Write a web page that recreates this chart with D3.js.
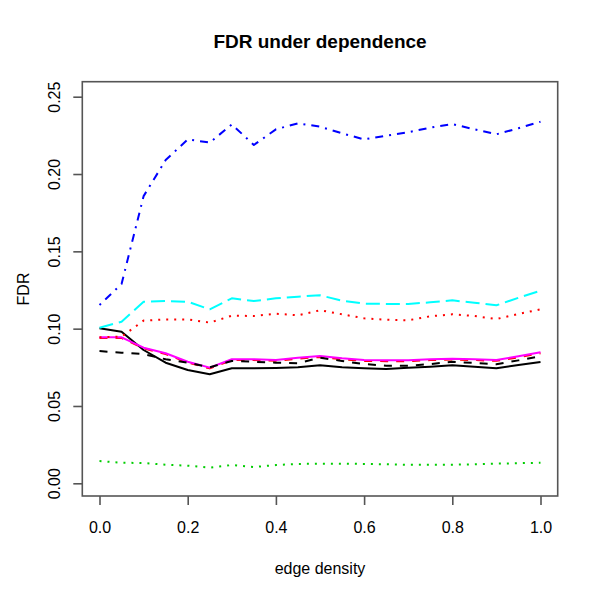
<!DOCTYPE html>
<html>
<head>
<meta charset="utf-8">
<script src="https://cdn.jsdelivr.net/npm/d3@7"></script>
<style>
  html, body { margin: 0; padding: 0; background: #fff; }
  svg { display: block; font-family: "Liberation Sans", Arial, Helvetica, sans-serif; }
</style>
</head>
<body>
<svg id="chart" width="600" height="600"></svg>
<script>
// ---- data ----
const title = "FDR under dependence";
const xLabel = "edge density";
const yLabel = "FDR";
const edgeDensity = [0, 0.05, 0.1, 0.15, 0.2, 0.25, 0.3, 0.35, 0.4, 0.45, 0.5,
                     0.55, 0.6, 0.65, 0.7, 0.75, 0.8, 0.85, 0.9, 0.95, 1.0];
const xTicks = [0, 0.2, 0.4, 0.6, 0.8, 1.0];
const xTickLabels = ["0.0", "0.2", "0.4", "0.6", "0.8", "1.0"];
const yTicks = [0, 0.05, 0.1, 0.15, 0.2, 0.25];
const yTickLabels = ["0.00", "0.05", "0.10", "0.15", "0.20", "0.25"];

const s1 = [0.1002, 0.0980, 0.0862, 0.0780, 0.0733, 0.0705, 0.0744, 0.0744, 0.0746, 0.0750, 0.0763,
            0.0750, 0.0744, 0.0739, 0.0748, 0.0754, 0.0763, 0.0754, 0.0744, 0.0765, 0.0784];
const s2 = [0.0940, 0.0940, 0.0872, 0.0836, 0.0781, 0.0743, 0.0797, 0.0797, 0.0792, 0.0806, 0.0817,
            0.0802, 0.0791, 0.0790, 0.0790, 0.0797, 0.0800, 0.0797, 0.0792, 0.0815, 0.0841];
const s3 = [0.0144, 0.0133, 0.0131, 0.0120, 0.0114, 0.0101, 0.0118, 0.0105, 0.0118, 0.0125, 0.0127,
            0.0127, 0.0125, 0.0123, 0.0120, 0.0120, 0.0120, 0.0123, 0.0127, 0.0130, 0.0133];
const s4 = [0.1153, 0.1289, 0.1857, 0.2090, 0.2224, 0.2203, 0.2321, 0.2188, 0.2289, 0.2328, 0.2306,
            0.2263, 0.2224, 0.2248, 0.2270, 0.2300, 0.2323, 0.2289, 0.2257, 0.2296, 0.2338];
const s5 = [0.1006, 0.1045, 0.1174, 0.1179, 0.1174, 0.1125, 0.1196, 0.1179, 0.1196, 0.1207, 0.1216,
            0.1181, 0.1162, 0.1160, 0.1160, 0.1170, 0.1183, 0.1168, 0.1151, 0.1200, 0.1245];
const s6 = [0.0944, 0.0944, 0.0877, 0.0841, 0.0786, 0.0748, 0.0802, 0.0802, 0.0797, 0.0812, 0.0823,
            0.0808, 0.0797, 0.0795, 0.0795, 0.0802, 0.0806, 0.0802, 0.0797, 0.0821, 0.0847];
const s7 = [0.0855, 0.0845, 0.0836, 0.0802, 0.0780, 0.0750, 0.0791, 0.0786, 0.0780, 0.0776, 0.0812,
            0.0791, 0.0771, 0.0760, 0.0760, 0.0771, 0.0786, 0.0778, 0.0770, 0.0795, 0.0821];
const s8 = [0.0944, 0.0948, 0.1052, 0.1060, 0.1060, 0.1039, 0.1084, 0.1082, 0.1097, 0.1086, 0.1119,
            0.1093, 0.1067, 0.1058, 0.1054, 0.1080, 0.1093, 0.1082, 0.1062, 0.1095, 0.1125];

const seriesValues = [s1, s2, s3, s4, s5, s6, s7, s8];
const seriesColors = ["#000000", "#FF0000", "#00CD00", "#0000FF", "#00FFFF", "#FF00FF", "#000000", "#FF0000"];
const seriesDash = ["", "8,8", "2,6", "2,6,8,6", "14,6", "", "8,8", "2,6"];

// ---- layout ----
const svg = d3.select("#chart");
const box = {left: 82.3, right: 557.7, top: 81.7, bottom: 496};
const x = d3.scaleLinear().domain([0, 1]).range([99.5, 540.5]);
const y = d3.scaleLinear().domain([0, 0.25]).range([483.3, 96.7]);

svg.append("rect").attr("width", 600).attr("height", 600).attr("fill", "#fff");

// series
const line = d3.line().x((d, i) => x(edgeDensity[i])).y(d => y(d));
const g = svg.append("g");
seriesValues.forEach((vals, k) => {
  g.append("path")
    .datum(vals)
    .attr("d", line)
    .attr("fill", "none")
    .attr("stroke", seriesColors[k])
    .attr("stroke-width", 2)
    .attr("stroke-linejoin", "round")
    .attr("stroke-linecap", "butt")
    .attr("stroke-dasharray", seriesDash[k] || null);
});

// box
svg.append("rect")
  .attr("x", box.left).attr("y", box.top)
  .attr("width", box.right - box.left).attr("height", box.bottom - box.top)
  .attr("fill", "none").attr("stroke", "#555").attr("stroke-width", 1.6);

// x axis
const xAxis = d3.axisBottom(x).tickValues(xTicks)
  .tickFormat((d, i) => xTickLabels[i]).tickSize(9).tickPadding(17);
const gx = svg.append("g").attr("transform", `translate(0,${box.bottom})`).call(xAxis);
gx.select(".domain").remove();
gx.selectAll(".tick line").attr("stroke", "#555").attr("stroke-width", 1.6);
gx.selectAll(".tick text").attr("font-size", 16).attr("fill", "#000")
  .attr("font-family", "Liberation Sans, Arial, sans-serif");

// y axis
const yAxis = d3.axisLeft(y).tickValues(yTicks)
  .tickFormat((d, i) => yTickLabels[i]).tickSize(9);
const gy = svg.append("g").attr("transform", `translate(${box.left},0)`).call(yAxis);
gy.select(".domain").remove();
gy.selectAll(".tick line").attr("stroke", "#555").attr("stroke-width", 1.6);
gy.selectAll(".tick text")
  .attr("font-size", 16).attr("fill", "#000")
  .attr("font-family", "Liberation Sans, Arial, sans-serif")
  .attr("x", null).attr("dy", null)
  .attr("text-anchor", "middle")
  .attr("transform", `translate(${60 - box.left},0) rotate(-90)`);

// titles
svg.append("text").attr("x", 320).attr("y", 47.5)
  .attr("text-anchor", "middle").attr("font-size", 19).attr("font-weight", "bold")
  .text(title);
svg.append("text").attr("x", 320).attr("y", 573.5)
  .attr("text-anchor", "middle").attr("font-size", 16)
  .text(xLabel);
svg.append("text").attr("transform", "translate(28.5,289) rotate(-90)")
  .attr("text-anchor", "middle").attr("font-size", 16)
  .text(yLabel);
</script>
</body>
</html>
